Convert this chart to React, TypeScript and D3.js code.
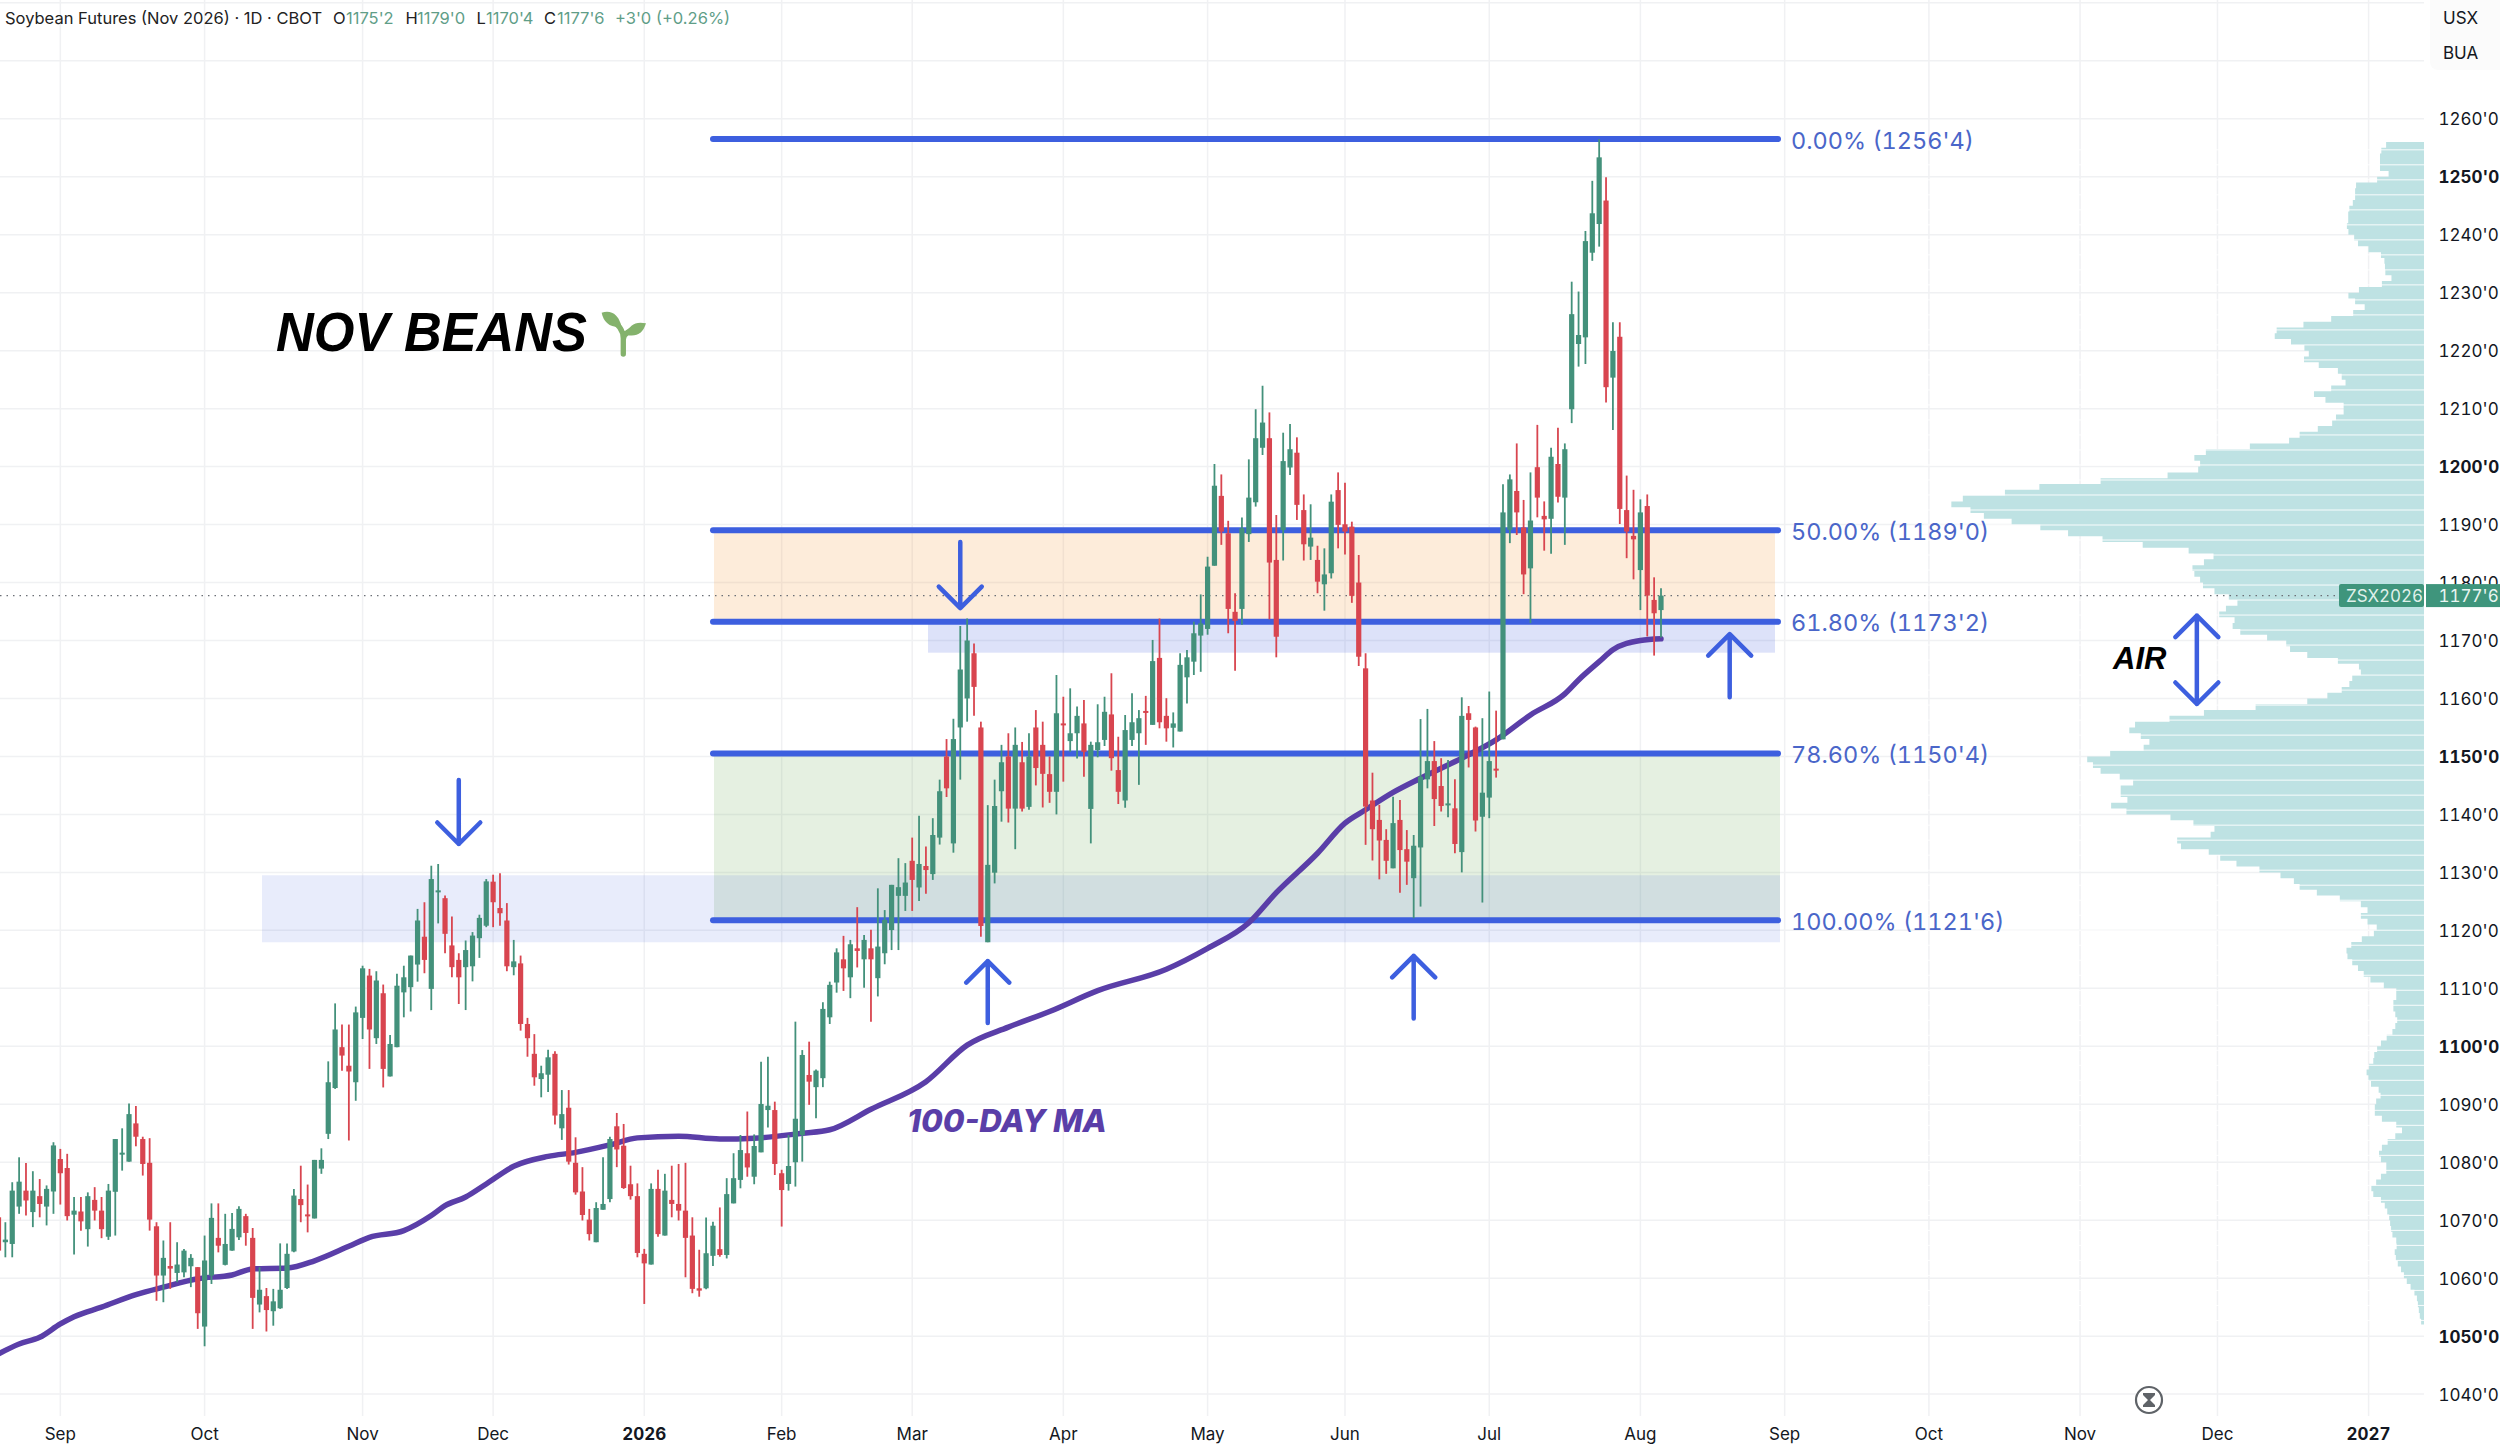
import React, { useEffect, useRef } from 'react';
import * as d3 from 'd3';

// daily bars
const opens = [
  1070.5,1066.2,1065.9,1072.35,1075.1,1071.4,1074.15,1072.35,1074.95,1080.55,
  1079,1070.95,1071.5,1068.45,1073.5,1071.65,1067.15,1074.9,1081.4,1080.1,
  1086.7,1084,1079.9,1068.95,1060.45,1062.1,1060.9,1061,1062.05,1061.9,
  1051.65,1060.45,1066.95,1062.3,1064.75,1067.05,1070.7,1066.95,1055.45,1056.9,
  1054.3,1054.8,1058.3,1064.6,1073.65,1071,1070.3,1078.9,1084.9,1092.8,
  1099.85,1096.65,1093.8,1104.9,1112.2,1101.4,1109.15,1094.8,1099.85,1109.3,
  1110.2,1114.1,1118.9,1109.9,1126.6,1125.55,1117.4,1114.9,1113.65,1113.8,
  1118.65,1120.8,1128.4,1123.85,1121.7,1113.65,1114.3,1103.85,1098.7,1094.35,
  1095.1,1098.7,1085.85,1089.4,1079.9,1074.95,1070.1,1066.2,1071.8,1073.65,
  1086.2,1082.85,1076.2,1074.15,1064.2,1062.35,1075.4,1067.35,1073.5,1072.8,
  1071.65,1067.35,1058.25,1058.25,1063.85,1065,1064,1072.9,1076.95,1081.55,
  1077.5,1081.7,1089,1089,1078.1,1076.25,1080,1084.7,1095.05,1092.95,
  1094.5,1105,1111,1115,1111.9,1116.9,1115,1116.9,1111.75,1116.05,
  1120.05,1125.95,1125.95,1132,1127.4,1131.1,1129.7,1136,1150,1135,
  1155,1160,1167.8,1155,1117.95,1129.95,1144,1150,1141,1149,
  1141.3,1155,1152,1146.95,1143.9,1155.7,1152.65,1154,1155.7,1140.95,
  1151.1,1152.85,1157.25,1147.65,1142.4,1152.85,1154,1157.85,1155.45,1167,
  1157,1154.95,1154.3,1163.65,1166.35,1170.85,1172,1182.9,1194.95,1188.5,
  1174.95,1175.45,1188.35,1193.85,1203.25,1204.9,1183.9,1189.05,1199.85,1202.4,
  1192.5,1186.2,1183.9,1179.7,1181.6,1195.95,1190.05,1189.65,1180,1165.2,
  1142.4,1139.05,1135.6,1130.7,1139.05,1134,1129,1134.3,1146.05,1149.2,
  1144.9,1141.65,1141.05,1133.5,1157.45,1155,1139.6,1142.9,1147.9,1152.95,
  1189.1,1195.8,1189.5,1182.45,1199.9,1191.5,1191,1200.45,1194.65,1209.9,
  1221.15,1222.3,1236.9,1241.85,1245.9,1215.35,1222.4,1192.5,1188.05,1182.15,
  1193.2,1177,1175.25,
];
const highs = [
  1072.25,1069.65,1076.55,1080.85,1079.85,1078.45,1077.1,1076,1083.45,1082.3,
  1081.45,1074,1074,1074.8,1075.7,1074,1076.25,1084,1085.85,1090.15,
  1089.7,1084.4,1084.15,1069.65,1066.5,1069.65,1066.2,1065.05,1064.15,1061.9,
  1067.35,1072.9,1072.9,1071.1,1071.25,1072.4,1071.1,1068.65,1061.9,1058.3,
  1058.15,1066,1066,1075.4,1079.4,1076.15,1080.4,1082.4,1097.4,1107.4,
  1103.75,1103.75,1106.85,1113.9,1113.35,1112.95,1110.65,1101.95,1112.5,1113.9,
  1115.65,1123.7,1124.85,1131.15,1131.45,1126,1122.4,1116.05,1118.25,1119.7,
  1122.7,1128.85,1129.6,1129.85,1124.7,1118.35,1115.65,1104.9,1102.1,1096.65,
  1099.4,1099.15,1092.45,1092.45,1084.3,1079.15,1071.95,1073.1,1080.85,1084.4,
  1088.5,1086.6,1079.4,1076.35,1065.05,1076.35,1078.7,1078,1079.4,1079.7,
  1079.9,1070.5,1064.9,1070.45,1069.75,1072.2,1077.25,1081.55,1084.7,1088.75,
  1084.8,1097.35,1098.2,1090.45,1078.7,1084.7,1104.25,1099.35,1100.8,1096,
  1107.6,1111.15,1116.9,1119.05,1118.35,1124,1119.2,1120.1,1127.25,1123.5,
  1127.85,1132.45,1131.6,1136,1139.75,1134.45,1139.35,1146,1153,1156.5,
  1172.5,1173.8,1169.5,1156,1141.6,1146,1152,1154,1155,1152.5,
  1154,1158,1156,1150,1164.05,1160.3,1161.75,1158.6,1159.75,1152.55,
  1159,1160.3,1164.35,1153.4,1157.15,1160.9,1158,1160.45,1170.1,1173.8,
  1160.05,1157.6,1167.8,1168.35,1173.25,1177.95,1184.45,1200.45,1198.65,1190.65,
  1178.15,1191.2,1201.25,1209.9,1213.95,1209.35,1191.65,1205.85,1207.35,1205.05,
  1195.2,1193.5,1186.35,1185.9,1195.2,1199,1197.2,1190.5,1184.75,1167.8,
  1147.2,1141.65,1137.45,1143.05,1142.5,1137.3,1136.45,1156.45,1158.2,1152.65,
  1149.7,1149.4,1146.05,1160.2,1158.7,1155.15,1156.6,1161.2,1157.9,1196.95,
  1198.65,1204,1194.25,1199,1207.2,1194,1203.25,1206.7,1204,1231.9,
  1230.2,1240.65,1249.3,1256.5,1249.9,1224.9,1224.9,1198.45,1196,1194.35,
  1195.2,1180.9,1179,
];
const lows = [
  1063.25,1063.6,1063.6,1071.1,1070.8,1068.8,1070.5,1069.1,1071.1,1072.7,
  1069.95,1064.1,1068.2,1065.45,1069.95,1066.9,1066.6,1067.35,1078.55,1080.1,
  1082.75,1077.7,1068.2,1056.1,1055.85,1058.15,1059.3,1060.15,1058.45,1051.25,
  1048.25,1059,1064.45,1062.2,1064.75,1066.6,1065.6,1051.25,1054.1,1050.8,
  1051.8,1054.7,1058.15,1064.45,1069.65,1067.9,1070.3,1078,1084,1092.65,
  1095.8,1083.75,1090.6,1101.25,1096.1,1100.4,1092.9,1094.8,1099.85,1105,
  1106,1111.15,1112.6,1106.25,1121.2,1116.05,1111.9,1107.3,1106.25,1111.2,
  1115.25,1120.55,1120.55,1120.8,1112.95,1112.25,1102.7,1098.2,1093.2,1091.2,
  1092.1,1086.5,1083.85,1079.6,1074.4,1069.95,1066.5,1066.2,1071.8,1073.1,
  1079.15,1075.4,1073.55,1063.6,1055.55,1062.35,1067.15,1067.35,1070.5,1069.95,
  1060.15,1057.4,1056.8,1058.1,1062.1,1063.7,1063.4,1072.9,1075.5,1077.5,
  1076.2,1081.7,1086,1077.8,1068.9,1075.1,1075.8,1080.1,1089.9,1087.6,
  1092.95,1103.85,1109.25,1109.55,1108.3,1113.6,1110.1,1104.25,1108.6,1114.15,
  1116.6,1116.6,1123.35,1123.35,1125.05,1126.3,1128.7,1134.8,1143,1133.4,
  1146,1156,1157,1118.9,1117.95,1128.1,1138.75,1138.6,1134,1140.5,
  1140.8,1145,1141.2,1142,1140,1145.65,1150.8,1149.65,1146.5,1135,
  1149.85,1151.8,1147.55,1141.8,1141.15,1151.8,1145.1,1152,1155.45,1154.85,
  1152.55,1151.55,1154.3,1159.15,1164.05,1164.6,1171,1182.9,1186.5,1171.25,
  1164.8,1172.7,1187,1193.1,1202,1173.65,1167.1,1183.8,1198.55,1190.8,
  1183.8,1183.9,1178.15,1175.15,1180.7,1185.9,1184.85,1176.5,1165.6,1134.75,
  1132.05,1128.8,1129.75,1130.7,1126.5,1127.85,1122.1,1124.1,1144.5,1138,
  1140.5,1139.5,1133.3,1130,1148.1,1137.05,1124.8,1139.35,1146.35,1152.95,
  1186.8,1188.2,1178,1173,1191.25,1185.5,1184.95,1193.8,1186.5,1207.5,
  1217.25,1217.7,1235.5,1237.95,1211.05,1206.3,1190.1,1184.2,1180.55,1175.25,
  1170.7,1167.4,1170.5,
];
const closes = [
  1064.75,1066.65,1075.1,1076.65,1073.4,1075.1,1072.8,1075.4,1082.9,1078.1,
  1070.7,1071.65,1069.8,1074.15,1071.65,1068.45,1075.1,1084,1081.65,1088.3,
  1084.4,1079.7,1070.1,1060.45,1063.5,1061.65,1062.35,1064.75,1063.5,1053.95,
  1063.05,1070.4,1065.6,1065.9,1068.5,1071.95,1067.8,1056.6,1058,1054.5,
  1056,1058,1064.2,1074.25,1072.6,1070.7,1080.4,1080.4,1093.8,1102.9,
  1098.4,1095.65,1105.85,1113.45,1102.9,1111.35,1096.1,1100.4,1110.45,1111.9,
  1115.65,1121.7,1114.9,1128.85,1126.9,1119.4,1113.65,1111.9,1116.6,1119.1,
  1122.15,1128.45,1124.85,1122.95,1113.8,1114.65,1103.85,1101.4,1094.65,1095.35,
  1098.1,1088.05,1088.3,1080.1,1074.8,1070.9,1067.6,1072.1,1072.8,1084,
  1082.2,1075.55,1074.15,1064.35,1062.55,1075.4,1067.6,1075.1,1072.8,1071.65,
  1066.95,1058.15,1057.85,1064.3,1069.05,1064,1074.5,1077.25,1082.1,1079.1,
  1082.8,1090.05,1089.75,1079.7,1075.2,1079.35,1087.5,1098.5,1093.9,1095.8,
  1106.45,1110.6,1116.2,1113.45,1117.6,1116.45,1118.35,1115,1117.2,1121.8,
  1127.85,1127.45,1128.25,1128.7,1131.45,1130.4,1136.45,1144,1144.5,1153,
  1165,1170,1162,1120.75,1131.3,1141.45,1149,1141,1152,1141,
  1150,1148,1147,1143.9,1157.45,1155.4,1154,1157,1150.8,1152,
  1152.45,1157.7,1149.7,1143.9,1154.55,1155.9,1156.6,1157.6,1166.45,1155.9,
  1154.85,1155.7,1165.8,1167.1,1171.25,1172.95,1182.75,1196.7,1188.8,1175.45,
  1173.4,1189.35,1194.65,1204.9,1207.6,1183.45,1170.65,1200.95,1203,1193.4,
  1186.6,1187.75,1180.15,1181.4,1193.95,1189.95,1188.8,1177.7,1167.2,1141.35,
  1137.45,1135.5,1132,1138.5,1133.85,1131.85,1134.6,1146.5,1149.2,1142.65,
  1141.45,1141.9,1134.9,1157,1156.3,1138.95,1143.75,1149.2,1147.6,1192.1,
  1197.8,1192.1,1181.4,1190.7,1194.65,1190.9,1201.7,1194.8,1203,1226.3,
  1222.7,1238.9,1243.7,1253.35,1213.7,1219.95,1192.7,1188.8,1187.45,1192.1,
  1177.75,1174.7,1177.75,
];

// 100-day moving average, read at these bars
const maBars = [0,3,6,9,11,15,20,24,29,34,37,42,46,51,54,59,63,65,68,71,75,80,84,89,93,99,105,110,117,121,127,135,141,147,153,160,170,176,182,186,192,196,199,203,207,213,218,223,228,230,233,235,239,242];
const maValues = [1046.95,1048.65,1049.8,1052.1,1053.35,1055,1057.15,1058.45,1059.9,1060.55,1061.6,1061.75,1063,1065.5,1067.05,1068.2,1070.8,1072.5,1074,1076.25,1079.3,1081,1081.7,1083,1084.2,1084.5,1084,1084.15,1085,1085.6,1089.15,1093.9,1100.2,1103.3,1106,1109.6,1113.3,1116.9,1121.3,1126.5,1133.3,1138.5,1140.8,1143.8,1146.25,1149.7,1152.85,1157.15,1160.8,1163.2,1166.35,1168.4,1170,1170.3];

// volume profile, one row per price level from the top down
const profileTop = 1256;
const profileVolume = [
  9,10.8,11.5,11.5,11.5,11.5,7,17.5,18,18,
  18,19.2,19.8,19.8,19.8,20.5,19,17.5,17,12,
  10.5,10.2,10.2,10,7,15,19,20.5,15.5,15.5,
  21.5,27,36,41,37,32.5,30,30.2,32.5,22.5,
  22.5,20.5,20.5,28,29.5,22,20,22,24,24,
  31.5,33.5,37,54,60,60,57,61,73,96,
  105,114,127,120,117,113,102.5,98,88,80,
  67,56,54,61,60,60,57,58.5,51,51,
  46.5,57,50,49,51,45,37,35,35,26,
  19,15,18,19.5,19.5,23.5,27,34,54,61,
  72,79,75,73,70.5,76,88,88,85,84,
  75,77,81.5,77,78,85.5,70,62.5,58,51.5,
  60,69,58,54.5,52,46,40,35,33,32,
  24,20,13,16.5,16.5,13,11.7,14.5,18,20,
  20.5,19.5,18,16.5,15,13,8,6.5,8,8,
  8,7,7,8,8.5,11,11.5,13,13,13.5,
  15.2,14.8,14.2,13.5,10.2,12.5,12.5,13.2,12.5,9.5,
  5,6.5,8.5,10.5,11.5,12,10.5,9.2,10.5,12,
  13,14.5,12,10.5,10,9.2,9,8.7,8.5,8,
  6.5,7.8,7.5,7.2,6.5,5.5,5,4,3,2,
  1.7,1.5,1.2,1,0.5,
];

const fibLevels = [1256.5, 1189, 1173.25, 1150.5, 1121.75];
const fibLabels = ["0.00% (1256'4)", "50.00% (1189'0)", "61.80% (1173'2)", "78.60% (1150'4)", "100.00% (1121'6)"];

const priceTicks = d3.range(1040, 1281, 10);
const monthLabels = ['Sep', 'Oct', 'Nov', 'Dec', '2026', 'Feb', 'Mar', 'Apr', 'May', 'Jun', 'Jul', 'Aug', 'Sep', 'Oct', 'Nov', 'Dec', '2027'];
const monthBars = [9, 30, 53, 72, 94, 114, 133, 155, 176, 196, 217, 239, 260, 281, 303, 323, 345];

const lastPrice = 1177.75;

const arrowBars = [67, 140, 144, 206, 252];
const arrowTips = [1134.9, 1175.6, 1114.7, 1115.6, 1171.1];
const arrowTails = [1145.95, 1187, 1104, 1104.8, 1160.2];

const GREEN = '#43917b';
const RED = '#d8454f';
const BLUE = '#3d5fdf';
const PURPLE = '#5a3ea8';
const FONT = 'Inter, "Liberation Sans", sans-serif';
const HEAD_FONT = '"Liberation Sans", Arial, sans-serif';

export default function App() {
  const svgRef = useRef<SVGSVGElement>(null);

  useEffect(() => {
    if (!svgRef.current) return;
    const svg = d3.select(svgRef.current);
    svg.selectAll('*').remove();
    svg.style('font-family', FONT).style('font-variant-numeric', 'tabular-nums');

    const PLOT_RIGHT = 2424;
    const PLOT_BOTTOM = 1416;

    const x = d3.scaleLinear().domain([0, 242]).range([-1.5, 1661]);
    const y = d3.scaleLinear().domain([1260, 1040]).range([118.8, 1394.1]);
    const volW = d3.scaleLinear().domain([0, 125]).range([0, 478.4]);

    // grid
    svg.append('g').selectAll('line').data(priceTicks).join('line')
      .attr('x1', 0).attr('x2', PLOT_RIGHT)
      .attr('y1', (d) => y(d)).attr('y2', (d) => y(d))
      .attr('stroke', '#f0f1f3').attr('stroke-width', 1.5);
    svg.append('g').selectAll('line').data(monthBars).join('line')
      .attr('x1', (d) => x(d)).attr('x2', (d) => x(d))
      .attr('y1', 0).attr('y2', PLOT_BOTTOM)
      .attr('stroke', '#f0f1f3').attr('stroke-width', 1.5);

    // shaded zones
    const zones = [
      { x0: 714, x1: 1780, top: 1150.5, bottom: 1121.75, fill: 'rgba(110,170,90,0.18)' },
      { x0: 262, x1: 1780, top: 1129.5, bottom: 1117.95, fill: 'rgba(64,96,224,0.12)' },
      { x0: 714, x1: 1775, top: 1189, bottom: 1173.25, fill: 'rgba(245,160,70,0.2)' },
      { x0: 928, x1: 1775, top: 1173.25, bottom: 1167.9, fill: 'rgba(64,96,224,0.18)' },
    ];
    svg.append('g').selectAll('rect').data(zones).join('rect')
      .attr('x', (d) => d.x0).attr('width', (d) => d.x1 - d.x0)
      .attr('y', (d) => y(d.top)).attr('height', (d) => y(d.bottom) - y(d.top))
      .attr('fill', (d) => d.fill);

    // volume profile
    const rows = profileVolume.map((v, i) => ({ price: profileTop - i, v }));
    const area = d3.area<{ price: number; v: number }>()
      .curve(d3.curveStep)
      .y((d) => y(d.price))
      .x0(PLOT_RIGHT)
      .x1((d) => PLOT_RIGHT - volW(d.v));
    svg.append('path').attr('d', area(rows)).attr('fill', '#bee2e3');
    svg.append('g').selectAll('line').data(d3.range(0, 79)).join('line')
      .attr('x1', PLOT_RIGHT - 500).attr('x2', PLOT_RIGHT)
      .attr('y1', (k) => y(1254.65 - 2.589 * k)).attr('y2', (k) => y(1254.65 - 2.589 * k))
      .attr('stroke', '#fff').attr('stroke-width', 0.9);

    // last price line
    svg.append('line')
      .attr('x1', 0).attr('x2', 2340)
      .attr('y1', y(lastPrice)).attr('y2', y(lastPrice))
      .attr('stroke', '#6b6f76').attr('stroke-width', 1.2)
      .attr('stroke-dasharray', '1.5 5');

    // fib lines + labels
    svg.append('g').selectAll('line').data(fibLevels).join('line')
      .attr('x1', 713).attr('x2', 1778)
      .attr('y1', (d) => y(d)).attr('y2', (d) => y(d))
      .attr('stroke', BLUE).attr('stroke-width', 6).attr('stroke-linecap', 'round');
    svg.append('g').selectAll('text').data(fibLabels).join('text')
      .attr('x', 1791)
      .attr('y', (_, i) => y(fibLevels[i]) + 9.5)
      .attr('font-size', 23.5).attr('fill', '#4a66c9')
      .text((d) => d);

    // 100 day MA
    const ma = d3.line<number>()
      .x((_, i) => x(maBars[i]))
      .y((d) => y(d))
      .curve(d3.curveMonotoneX);
    svg.append('path')
      .attr('d', ma(maValues))
      .attr('fill', 'none').attr('stroke', PURPLE)
      .attr('stroke-width', 5.5).attr('stroke-linecap', 'round');

    // candles
    const bars = d3.range(opens.length);
    const color = (i: number) => (closes[i] >= opens[i] ? GREEN : RED);
    const candles = svg.append('g');
    candles.selectAll('line').data(bars).join('line')
      .attr('x1', (i) => x(i)).attr('x2', (i) => x(i))
      .attr('y1', (i) => y(highs[i])).attr('y2', (i) => y(lows[i]))
      .attr('stroke', color).attr('stroke-width', 1.8);
    candles.selectAll('rect').data(bars).join('rect')
      .attr('x', (i) => x(i) - 2.6).attr('width', 5.2)
      .attr('y', (i) => y(Math.max(opens[i], closes[i])))
      .attr('height', (i) => Math.max(2, Math.abs(y(opens[i]) - y(closes[i]))))
      .attr('fill', color);

    // arrows
    const arrows = svg.append('g').attr('fill', 'none').attr('stroke', BLUE)
      .attr('stroke-width', 4.5).attr('stroke-linecap', 'round').attr('stroke-linejoin', 'round');
    const head = (px: number, py: number, dir: number) =>
      `M${px - 21.5},${py + dir * 21.5}L${px},${py}L${px + 21.5},${py + dir * 21.5}`;
    arrowBars.forEach((b, i) => {
      const px = x(b);
      const tip = y(arrowTips[i]);
      const tail = y(arrowTails[i]);
      const dir = tail > tip ? 1 : -1;
      arrows.append('path').attr('d', `M${px},${tail}L${px},${tip}${head(px, tip, dir)}`);
    });
    const airX = x(320);
    arrows.append('path').attr('d',
      `M${airX},${y(1174.3)}L${airX},${y(1159.05)}${head(airX, y(1174.3), 1)}${head(airX, y(1159.05), -1)}`);

    // annotations
    svg.append('text').attr('x', 276).attr('y', 351)
      .attr('font-family', HEAD_FONT).attr('font-weight', 700).attr('font-style', 'italic')
      .attr('font-size', 55).attr('fill', '#000')
      .attr('textLength', 311).attr('lengthAdjust', 'spacingAndGlyphs')
      .text('NOV BEANS');
    svg.append('text').attr('x', 907).attr('y', 1131.7)
      .attr('font-family', FONT).attr('font-weight', 800).attr('font-style', 'italic')
      .attr('font-size', 31.5).attr('fill', PURPLE)
      .style('font-variant-numeric', 'normal')
      .text('100-DAY MA');
    svg.append('text').attr('x', 2113).attr('y', 669.4)
      .attr('font-family', HEAD_FONT).attr('font-weight', 700).attr('font-style', 'italic')
      .attr('font-size', 31).attr('fill', '#000').text('AIR');

    // seedling
    const sprout = svg.append('g').attr('transform', 'translate(240,270) scale(0.3333)');
    sprout.append('path')
      .attr('d', 'M1150,252L1150,205Q1150,172 1112,148M1150,208Q1152,186 1188,174')
      .attr('fill', 'none').attr('stroke', '#84b26c').attr('stroke-width', 16).attr('stroke-linecap', 'round');
    sprout.append('path').attr('d', 'M1085,128Q1130,115 1145,170Q1095,175 1085,128Z').attr('fill', '#84b26c');
    sprout.append('path').attr('d', 'M1218,160Q1205,205 1160,195Q1170,150 1218,160Z').attr('fill', '#84b26c');

    // hourglass
    const clock = svg.append('g').attr('transform', 'translate(2149,1400)');
    clock.append('circle').attr('r', 13).attr('fill', '#fff').attr('stroke', '#5f6368').attr('stroke-width', 2.2);
    clock.append('path').attr('d', 'M-6,-7H6V-5L1,0L6,5V7H-6V5L-1,0L-6,-5Z').attr('fill', '#5f6368');

    // price axis
    svg.append('g').selectAll('text').data(priceTicks.filter((p) => p <= 1260)).join('text')
      .attr('x', 2438.5)
      .attr('y', (d) => y(d) + 6.5)
      .attr('font-size', 17)
      .attr('font-weight', (d) => (d % 50 === 0 ? 700 : 400))
      .attr('fill', '#131722')
      .text((d) => `${d}'0`);

    // time axis
    svg.append('g').selectAll('text').data(monthLabels).join('text')
      .attr('x', (_, i) => x(monthBars[i]))
      .attr('y', 1439.5)
      .attr('text-anchor', 'middle')
      .attr('font-size', 17)
      .attr('font-weight', (d) => (d.length === 4 ? 700 : 400))
      .attr('fill', '#131722')
      .text((d) => d);

    // last price tags
    const tagY = y(lastPrice);
    svg.append('rect').attr('x', 2339).attr('y', tagY - 11.5).attr('width', 85).attr('height', 23)
      .attr('rx', 2).attr('fill', '#3f957c');
    svg.append('rect').attr('x', 2426).attr('y', tagY - 11.5).attr('width', 74).attr('height', 23)
      .attr('fill', '#3f957c');
    svg.append('text').attr('x', 2346).attr('y', tagY + 6).attr('font-size', 17).attr('fill', '#dff0ea').text('ZSX2026');
    svg.append('text').attr('x', 2438.5).attr('y', tagY + 6).attr('font-size', 17).attr('fill', '#eaf5f1').text(`1177'6`);

    // currency / unit box
    svg.append('rect').attr('x', 2430).attr('y', -8).attr('width', 80).attr('height', 78).attr('rx', 8).attr('fill', '#fbfbfb');
    svg.append('text').attr('x', 2443).attr('y', 24).attr('font-size', 17).attr('fill', '#131722').text('USX');
    svg.append('text').attr('x', 2443).attr('y', 59).attr('font-size', 17).attr('fill', '#131722').text('BUA');

    // header legend
    const legend = [
      { x: 5, t: 'Soybean Futures (Nov 2026) · 1D · CBOT', c: '#222' },
      { x: 333, t: 'O', c: '#222' },
      { x: 346, t: `1175'2`, c: '#5f9e88' },
      { x: 405.6, t: 'H', c: '#222' },
      { x: 417, t: `1179'0`, c: '#5f9e88' },
      { x: 476.5, t: 'L', c: '#222' },
      { x: 486, t: `1170'4`, c: '#5f9e88' },
      { x: 544, t: 'C', c: '#222' },
      { x: 557, t: `1177'6`, c: '#5f9e88' },
      { x: 615, t: `+3'0 (+0.26%)`, c: '#5f9e88' },
    ];
    svg.append('g').selectAll('text').data(legend).join('text')
      .attr('x', (d) => d.x).attr('y', 24)
      .attr('font-size', 16.5).attr('fill', (d) => d.c)
      .style('font-variant-numeric', 'normal')
      .text((d) => d.t);
  }, []);

  return (
    <svg
      ref={svgRef}
      width={2500}
      height={1444}
      style={{ position: 'fixed', left: 0, top: 0, background: '#fff' }}
    />
  );
}
